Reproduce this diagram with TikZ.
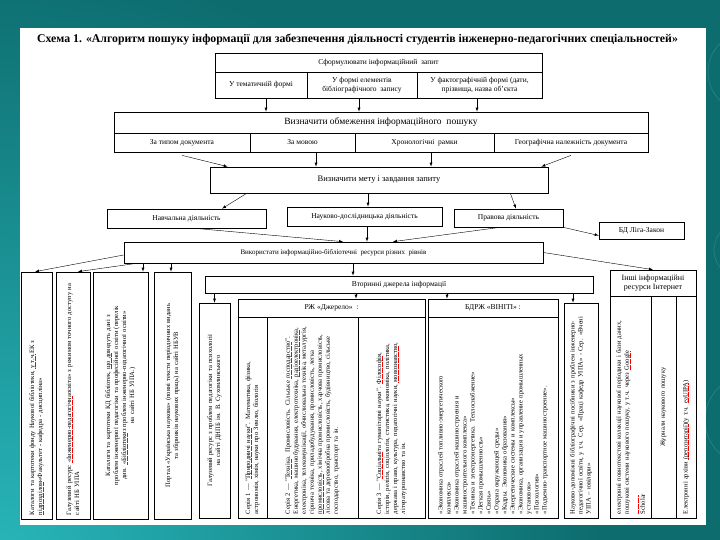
\documentclass[tikz,border=0pt]{standalone}
\usepackage{fontspec}
\setmainfont{Liberation Serif}
\definecolor{bgteal}{RGB}{13,108,110}
\definecolor{bglite}{RGB}{40,182,186}
\definecolor{bgline}{RGB}{34,128,130}
\newcommand\spl[1]{\setbox0\hbox{#1}\rlap{\textcolor{red}{\raisebox{-1.3pt}{\hbox to \wd0{\leaders\hbox{\rule{0.9pt}{0.5pt}\hspace{0.3pt}}\hfill}}}}\box0}
\tikzset{
	box/.style={draw, line width=0.7pt, inner sep=1pt, align=center, font=\fontsize{7.5}{8.5}\selectfont},
	vtxt/.style={rotate=90, inner sep=0pt, font=\fontsize{6.6}{8}\selectfont},
}
\begin{document}
\begin{tikzpicture}[x=1pt,y=-1pt]
	\useasboundingbox (0,0) rectangle (720,540);
	
	% slide
	\fill[bgteal] (0,0) rectangle (720,540);
	\begin{scope}
		\clip (0,0) rectangle (720,540);
		\shade[inner color=bglite, outer color=bgteal] (0,560) circle (600);
		\draw[bgline, line width=0.8pt] (748,72) circle (40);
		\draw[bgline, line width=0.8pt] (742,250) circle (28);
		\draw[bgline, line width=0.8pt] (750,420) circle (45);
	\end{scope}
	\fill[white] (20,28) rectangle (706,525);
	
	\node[font=\fontsize{11.8}{14}\selectfont\bfseries] (titl) at (357.5,40) {Схема 1. «Алгоритм пошуку інформації для забезпечення діяльності студентів інженерно-педагогічних спеціальностей»};
	
	% request
	\node[box, minimum width=327, minimum height=19] (zapyt) at (378.5,62.5) {Сформулювати інформаційний \ запит};
	\node[box, minimum width=92, minimum height=26] (tema) at (261,85) {У тематичній формі};
	\node[box, minimum width=110, minimum height=26] (elem) at (362,85) {У формі елементів\\бібліографічного \ запису};
	\node[box, minimum width=125, minimum height=26] (fakt) at (479.5,85) {У фактографічній формі (дати,\\прізвища, назва об’єкта};
	
	% limits
	\node[box, minimum width=534, minimum height=21, font=\fontsize{9.5}{11}\selectfont] (obmez) at (381,122.5) {Визначити обмеження інформаційного \ пошуку};
	\node[box, minimum width=136, minimum height=19] (typ) at (182,142.5) {За типом документа};
	\node[box, minimum width=105, minimum height=19] (mova) at (302.5,142.5) {За мовою};
	\node[box, minimum width=139, minimum height=19] (khron) at (424.5,142.5) {Хронологічні \ рамки};
	\node[box, minimum width=154, minimum height=19] (geo) at (571,142.5) {Географічна належність документа};
	
	\node[box, minimum width=338, minimum height=26, font=\fontsize{8.5}{10}\selectfont] (mety) at (379,180) {Визначити мету і завдання запиту};
	
	% activities
	\node[box, minimum width=159, minimum height=19] (navch) at (186.5,218.5) {Навчальна діяльність};
	\node[box, minimum width=155, minimum height=19] (nauk) at (364.5,216.5) {Науково-дослідницька діяльність};
	\node[box, minimum width=109, minimum height=18] (prav) at (508.5,218) {Правова діяльність};
	\node[box, minimum width=85, minimum height=17] (liga) at (641.5,230.5) {БД Ліга-Закон};
	
	\node[box, minimum width=419, minimum height=21, font=\fontsize{7}{8}\selectfont] (vykor) at (333.5,252.5) {Використати інформаційно-бібліотечні \ ресурси різних \ рівнів};
	
	% library resources
	\node[box, minimum width=31, minimum height=247] (katal) at (36.5,395.5) {};
	\node[vtxt, text width=239, align=left] (katalt) at (katal) {Каталоги та картотеки фонду Наукової бібліотеки, \spl{у т.ч.} ЕК з \spl{підрозділом} «Факультет - кафедра - дисципліна»};
	\node[box, minimum width=34, minimum height=247] (halz) at (73,395.5) {};
	\node[vtxt, text width=239, align=left] (halzt) at (halz) {Галузевий ресурс \spl{«Інженерно-педагогічна} освіта» з режимом точного доступу на сайті НБ УІПА};
	\node[box, minimum width=55, minimum height=247] (kd) at (120.5,395.5) {};
	\node[vtxt, text width=239, align=center] (kdt) at (kd) {Каталоги та картотеки КД бібліотек, \spl{що до} ведуть дані з\\проблем інженерної педагогіки та професійної освіти (перелік\\див. \spl{«Бібліотеки} з проблем інженерно-педагогічної освіти»\\на сайті НБ УІПА.)};
	\node[box, minimum width=37, minimum height=247] (port) at (172.5,395.5) {};
	\node[vtxt, text width=239, align=center] (portt) at (port) {Портал «Українська наукова» (повні тексти періодичних видань\\та збірників наукових праць) на сайті НБУВ};
	
	% secondary sources
	\node[box, minimum width=388, minimum height=17] (vtor) at (399,284.5) {Вторинні джерела інформації};
	\node[box, minimum width=31, minimum height=215] (hped) at (214.5,410.5) {};
	\node[vtxt, text width=207, align=center] (hpedt) at (hped) {Галузевий ресурс з проблем педагогіки та психології\\на сайті ДНПБ ім. В. Сухомлинського};
	
	\node[box, minimum width=187, minimum height=18] (dzhr) at (331.5,308) {РЖ «Джерело» \ :};
	\node[box, minimum width=29, minimum height=201] (ser1) at (252.5,417.5) {};
	\node[vtxt, text width=193, align=left] (ser1t) at (ser1) {Серія 1 — "\spl{Природничі науки}". Математика, фізика,\\астрономія, хімія, науки про Землю, біологія};
	\node[box, minimum width=91, minimum height=201] (ser2) at (312.5,417.5) {};
	\node[vtxt, text width=193, align=left] (ser2t) at (ser2) {Серія 2 — "\spl{Техніка}. Промисловість. Сільське \spl{господарство}". Енергетика, машинобудування, електротехніка, \spl{радіоелектроніка}, електроніка, телекомунікації, обчислювальна техніка, металургія, гірнича техніка, приладобудування, промисловість, легка \spl{промисловість}, хімічна промисловість, харчова промисловість, лісова та деревообробна промисловість, будівництво, сільське господарство, транспорт та ін.};
	\node[box, minimum width=67, minimum height=201] (ser3) at (391.5,417.5) {};
	\node[vtxt, text width=193, align=left] (ser3t) at (ser3) {Серія 3 — "\spl{Соціальні} та гуманітарні науки". \spl{Філософія}, історія, релігія, соціологія, статистика, економіка, політика, держава і право, культура, педагогічні науки, \spl{мовознавство}, літературознавство та ін.};
	
	\node[box, minimum width=130, minimum height=18] (vinit) at (493,308) {БДРЖ «ВІНІТІ» :};
	\node[box, minimum width=130, minimum height=201] (vinb) at (493,417.5) {};
	\node[vtxt, text width=193, align=left] (vinbt) at (vinb) {«Экономика отраслей топливно-энергетического\\комплекса»\\«Экономика отраслей машиностроения и\\машиностроительного комплекса»\\«Техника и электроэнергетика. Теплоснабжение»\\«Легкая промышленность»\\«Связь»\\«Охрана окружающей среды»\\«Кадры. Экономика образования»\\«Энергетические системы и комплексы»\\«Экономика, организация и управление промышленных\\установок»\\«Психология»\\«Подъемно-транспортное машиностроение».};
	
	\node[box, minimum width=34, minimum height=215] (nddp) at (581,410.5) {};
	\node[vtxt, text width=207, align=left] (nddpt) at (nddp) {Науково-допоміжні бібліографічні посібники з проблем інженерно-педагогічної освіти, у т.ч. Сер. «Праці кафедр УІПА» - Сер. «Вчені УІПА – ювіляри»};
	
	% internet
	\node[box, minimum width=86, minimum height=26, font=\fontsize{8}{9.5}\selectfont] (inshi) at (653,283) {Інші інформаційні\\ресурси Інтернет};
	\node[box, minimum width=41, minimum height=222] (ielk) at (630.5,407) {};
	\node[vtxt, text width=214, align=left] (ielkt) at (ielk) {електронні повнотекстові колекції наукової періодики і бази даних, пошукові системи наукового пошуку, у т.ч. через \spl{Google}\\\spl{Scholar}};
	\node[box, minimum width=25, minimum height=222] (ijur) at (663.5,407) {};
	\node[vtxt, text width=214, align=center] (ijurt) at (ijur) {Журнали наукового пошуку};
	\node[box, minimum width=20, minimum height=222] (iarh) at (686,407) {};
	\node[vtxt, text width=214, align=left] (iarht) at (iarh) {Електронні архіви \spl{(репозитарії)} (у т.ч. \spl{eaUIPA})};
	
	% request -> limits
	\draw[-latex] ([xshift=5]tema.south) -- ([xshift=5]tema.south |- obmez.north);
	\draw[-latex] ([xshift=-3]elem.south) -- ([xshift=-3]elem.south |- obmez.north);
	\draw[-latex] ([xshift=-2.5]fakt.south) -- ([xshift=-2.5]fakt.south |- obmez.north);
	
	% limits -> goal
	\draw[-latex] ([yshift=-3]typ.south) -- ([xshift=18]mety.north west);
	\draw[-latex] ([xshift=13.5]mova.south) -- ([xshift=13.5]mova.south |- mety.north);
	\draw[-latex] ([xshift=6.5]khron.south) -- ([xshift=6.5]khron.south |- mety.north);
	\draw[-latex] ([yshift=-3]geo.south) -- ([xshift=-7]mety.north east);
	
	% goal -> activities
	\draw[-latex] ([xshift=37]mety.south west) -- ([xshift=35.5]navch.north);
	\draw[-latex] ([xshift=3.5]nauk.north |- mety.south) -- ([xshift=3.5]nauk.north);
	\draw[-latex] ([xshift=-38]mety.south east) -- ([xshift=7.5]prav.north);
	\draw[-latex] (prav.south east) -- ([yshift=-5]liga.west);
	
	% activities -> resources
	\draw[-latex] ([xshift=8.5]navch.south) -- ([xshift=9.5]vykor.north);
	\draw[-latex] ([xshift=2.5]nauk.south) -- ([xshift=2.5]nauk.south |- vykor.north);
	\draw[-latex] ([xshift=-8.5]prav.south) -- ([xshift=59.5]vykor.north);
	
	% resources -> sources
	\draw[-latex] ([yshift=-2.5]vykor.west) -- ([xshift=-1.5]katal.north);
	\draw[-latex] ([xshift=13]vykor.south west) -- ([xshift=5]halz.north);
	\draw[-latex] ([xshift=22.5]kd.north |- vykor.south) -- ([xshift=22.5]kd.north);
	\draw[-latex] ([xshift=-1.5]port.north |- vykor.south) -- ([xshift=-1.5]port.north);
	\draw[-latex] ([xshift=19.5]vykor.south) -- ([xshift=19.5]vykor.south |- vtor.north);
	\draw[-latex] (vykor.east) -- (inshi.north);
	
	% secondary
	\draw[-latex] (hped.north |- vtor.south) -- (hped.north);
	\draw[-latex] ([xshift=24.5]dzhr.north |- vtor.south) -- ([xshift=24.5]dzhr.north);
	\draw[-latex] ([xshift=-46]vinit.north |- vtor.south) -- ([xshift=-46]vinit.north);
	\draw[-latex] ([xshift=-8]nddp.north |- vtor.south) -- ([xshift=-8]nddp.north);
	
\end{tikzpicture}
\end{document}
